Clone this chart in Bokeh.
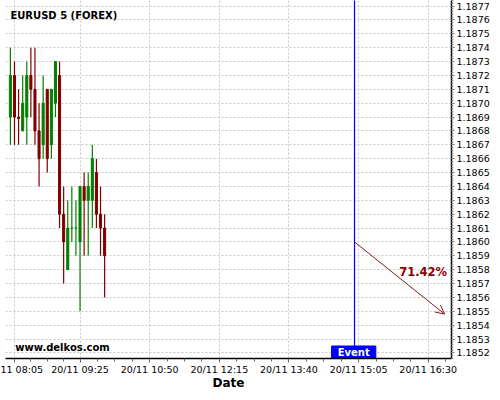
import numpy as np
import pandas as pd
from bokeh.plotting import figure
from bokeh.models import FixedTicker, Arrow, OpenHead, Label, ColumnDataSource, Range1d
from bokeh.embed import file_html
from bokeh.resources import INLINE

# ---------------- data ----------------
times = ["2017-11-20 08:00", "2017-11-20 08:05", "2017-11-20 08:10", "2017-11-20 08:15",
         "2017-11-20 08:20", "2017-11-20 08:25", "2017-11-20 08:30", "2017-11-20 08:35",
         "2017-11-20 08:40", "2017-11-20 08:45", "2017-11-20 08:50", "2017-11-20 08:55",
         "2017-11-20 09:00", "2017-11-20 09:05", "2017-11-20 09:10", "2017-11-20 09:15",
         "2017-11-20 09:20", "2017-11-20 09:25", "2017-11-20 09:30", "2017-11-20 09:35",
         "2017-11-20 09:40", "2017-11-20 09:45", "2017-11-20 09:50", "2017-11-20 09:55"]
opens  = [1.1869, 1.1872, 1.1869, 1.1868, 1.1869, 1.1872, 1.1871, 1.1868,
          1.1867, 1.1871, 1.1867, 1.1870, 1.1872, 1.1862, 1.1858, 1.1861,
          1.1861, 1.1860, 1.1864, 1.1863, 1.1863, 1.1865, 1.1862, 1.1861]
highs  = [1.1874, 1.1873, 1.1871, 1.1872, 1.1873, 1.1874, 1.1874, 1.1870,
          1.1872, 1.1871, 1.1871, 1.1873, 1.1873, 1.1864, 1.1863, 1.1864,
          1.1863, 1.1864, 1.1865, 1.1865, 1.1867, 1.1866, 1.1864, 1.1862]
lows   = [1.1867, 1.1867, 1.1867, 1.1868, 1.1867, 1.1869, 1.1867, 1.1864,
          1.1866, 1.1865, 1.1866, 1.1869, 1.1861, 1.1857, 1.1858, 1.1860,
          1.1859, 1.1855, 1.1859, 1.1859, 1.1861, 1.1861, 1.1859, 1.1856]
closes = [1.1872, 1.1869, 1.18689, 1.1870, 1.1872, 1.1871, 1.1868, 1.1866,
          1.1870, 1.1866, 1.1871, 1.1873, 1.1862, 1.1860, 1.1861, 1.1861,
          1.1861, 1.1864, 1.1863, 1.1864, 1.1866, 1.1862, 1.1861, 1.1859]

x_tick_times = ["2017-11-20 08:05", "2017-11-20 09:25", "2017-11-20 10:50", "2017-11-20 12:15",
                "2017-11-20 13:40", "2017-11-20 15:05", "2017-11-20 16:30"]
# first label is shown cut at the left edge in the source chart
x_tick_labels = ["11 08:05", "20/11 09:25", "20/11 10:50", "20/11 12:15",
                 "20/11 13:40", "20/11 15:05", "20/11 16:30"]
y_tick_labels = ["1.1852", "1.1853", "1.1854", "1.1855", "1.1856", "1.1857", "1.1858",
                 "1.1859", "1.1860", "1.1861", "1.1862", "1.1863", "1.1864", "1.1865",
                 "1.1866", "1.1867", "1.1868", "1.1869", "1.1870", "1.1871", "1.1872",
                 "1.1873", "1.1874", "1.1875", "1.1876", "1.1877"]

title_text = "EURUSD 5 (FOREX)"
event_time = "2017-11-20 15:00"
forecast_start_price = 1.1860
forecast_end_time = "2017-11-20 16:50"
forecast_end_price = 1.18548
forecast_text = "71.42%"
site_text = "www.delkos.com"
x_label = "Date"


def ms(s):
    return pd.Timestamp(s).value / 1e6


GREEN = "#008000"
RED = "#800000"
FONT = "DejaVu Sans"

colors = [GREEN if c >= o else RED for o, c in zip(opens, closes)]
src = ColumnDataSource(dict(
    t=[ms(t) for t in times], o=opens, h=highs, l=lows, c=closes,
    top=[max(o, c) for o, c in zip(opens, closes)],
    bottom=[min(o, c) for o, c in zip(opens, closes)],
    color=colors,
))

y0, y1 = 1.18516, 1.18774
p = figure(width=492, height=392, x_axis_type="datetime", y_axis_location="right",
           output_backend="svg", toolbar_location=None,
           x_range=Range1d(ms("2017-11-20 07:54:02"), ms("2017-11-20 16:58:22")),
           y_range=Range1d(y0, y1),
           min_border_left=5, min_border_top=0, min_border_right=40, min_border_bottom=28)
p.outline_line_color = None
p.background_fill_color = "white"
p.border_fill_color = "white"

# grids
for g in (p.xgrid, p.ygrid):
    g.grid_line_color = "#c8c8c8"
    g.grid_line_dash = "2 2"
    g.grid_line_width = 1

# candles
p.segment(x0="t", y0="h", x1="t", y1="l", line_color="color", line_width=1.2, source=src)
p.vbar(x="t", width=150000, top="top", bottom="bottom", fill_color="color",
       line_color="color", line_width=1, source=src)

# event line and box
ev = ms(event_time)
p.segment(x0=[ev], y0=[1.18525], x1=[ev], y1=[1.1879], line_color="#0000ff", line_width=1.2)
p.quad(left=[ms("2017-11-20 14:32")], right=[ms("2017-11-20 15:26")],
       bottom=[1.1850], top=[1.18525], fill_color="#0000ff", line_color="#0000ff")
p.add_layout(Label(x=ms("2017-11-20 14:59"), y=1.18520, text="Event", text_color="white",
                   text_font=FONT, text_font_style="bold", text_font_size="10px",
                   text_align="center", text_baseline="middle"))

# forecast arrow
p.add_layout(Arrow(end=OpenHead(size=9, line_color="#8b1a1a", line_width=1),
                   x_start=ev, y_start=forecast_start_price,
                   x_end=ms(forecast_end_time), y_end=forecast_end_price,
                   line_color="#8b1a1a", line_width=1))
p.add_layout(Label(x=ms("2017-11-20 16:53"), y=1.18578, text=forecast_text, text_color="#8b0000",
                   text_font=FONT, text_font_style="bold", text_font_size="11.5px",
                   text_align="right", text_baseline="middle"))

# title and site
p.add_layout(Label(x=ms("2017-11-20 08:00"), y=1.18763, text=title_text, text_color="black",
                   text_font=FONT, text_font_style="bold", text_font_size="10px",
                   text_align="left", text_baseline="middle"))
p.add_layout(Label(x=ms("2017-11-20 08:06"), y=1.18524, text=site_text, text_color="black",
                   text_font=FONT, text_font_style="bold", text_font_size="10px",
                   text_align="left", text_baseline="middle"))

# x axis
x_ticks = [ms(t) for t in x_tick_times]
step2 = (x_ticks[2] - x_ticks[1]) / 4.0
x_minor = [x_ticks[0] - step2 * k for k in range(1, 3)]
for a, b in zip(x_ticks[:-1], x_ticks[1:]):
    x_minor += list(np.linspace(a, b, 5)[1:-1])
x_minor += [x_ticks[-1] + step2 * k for k in range(1, 3)]
p.xaxis.ticker = FixedTicker(ticks=x_ticks, minor_ticks=x_minor)
p.xaxis.major_label_overrides = dict(zip(x_ticks, x_tick_labels))
p.xaxis.axis_label = x_label
p.xaxis.axis_label_text_font = FONT
p.xaxis.axis_label_text_font_style = "bold"
p.xaxis.axis_label_text_font_size = "12px"
p.xaxis.axis_label_text_color = "black"
p.xaxis.axis_label_standoff = -2
p.xaxis.major_label_text_font = FONT
p.xaxis.major_label_text_font_size = "9.5px"
p.xaxis.major_label_text_color = "black"
p.xaxis.major_label_standoff = 1
p.xaxis.major_tick_out = 4
p.xaxis.major_tick_in = 0
p.xaxis.minor_tick_out = 3
p.xaxis.minor_tick_in = 0
p.xaxis.major_tick_line_color = "#666666"
p.xaxis.minor_tick_line_color = "#666666"
p.xaxis.axis_line_color = "black"
p.xaxis.axis_line_width = 1.5

# y axis
y_ticks = [float(s) for s in y_tick_labels]
y_minor = [round(v, 6) for v in np.arange(1.18510, 1.18780, 0.00002)]
p.yaxis.ticker = FixedTicker(ticks=y_ticks, minor_ticks=y_minor)
p.yaxis.major_label_overrides = dict(zip(y_ticks, y_tick_labels))
p.yaxis.major_label_text_font = FONT
p.yaxis.major_label_text_font_size = "9.5px"
p.yaxis.major_label_text_color = "black"
p.yaxis.major_label_standoff = 2
p.yaxis.major_tick_out = 3
p.yaxis.major_tick_in = 0
p.yaxis.minor_tick_out = 2
p.yaxis.minor_tick_in = 0
p.yaxis.major_tick_line_color = "#666666"
p.yaxis.minor_tick_line_color = "#999999"
p.yaxis.axis_line_color = "black"
p.yaxis.axis_line_width = 1.5

open("out.html", "w").write(file_html(p, INLINE))
